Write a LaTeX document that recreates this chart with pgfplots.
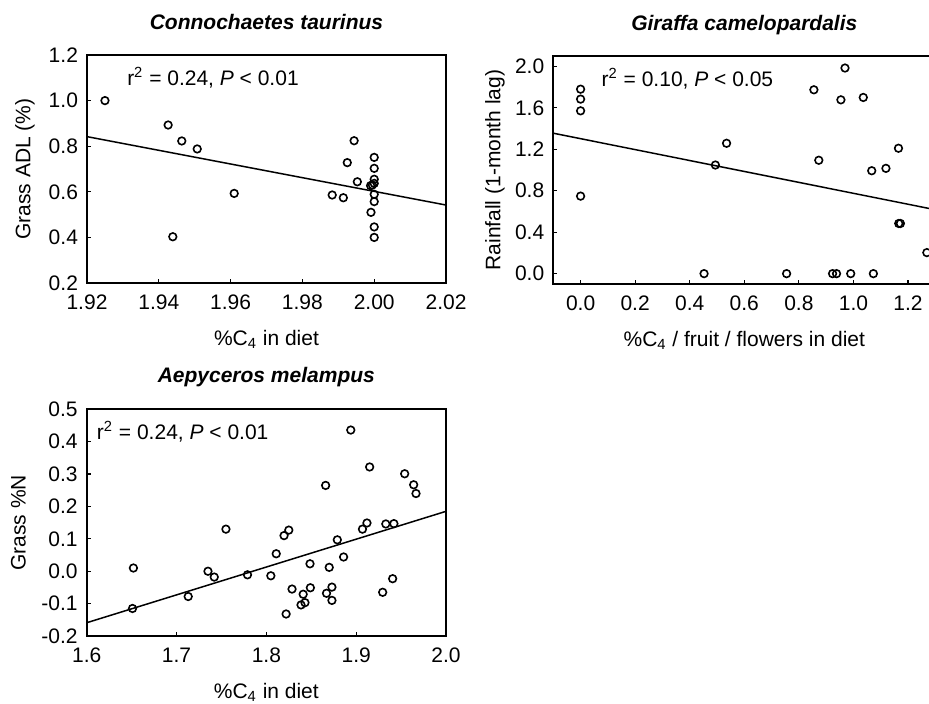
\documentclass[border=0pt]{standalone}
\usepackage{fontspec}
\setmainfont{Liberation Sans}
\usepackage{pgfplots}
\pgfplotsset{compat=1.18}
\newcommand\fs{\fontsize{10.5}{12.6}\selectfont}
\pgfplotsset{
  every axis/.append style={
    scale only axis,
    anchor=north west,
    axis line style={line width=0.9pt},
    tick align=inside,
    xtick pos=bottom, ytick pos=left,
    major tick length=2pt,
    tick style={line width=0.6pt, black},
    /pgf/number format/assume math mode=true,
    tick label style={font=\fs},
    xticklabel style={yshift=-2.5pt},
    yticklabel style={xshift=-1pt},
    label style={font=\fs},
    title style={font=\fs\bfseries\itshape, anchor=base, at={(axis description cs:0.5,1)}},
    xlabel style={anchor=base, at={(axis description cs:0.5,0)}, yshift=-31pt},
  },
  pts/.style={only marks, mark=o, mark size=1.9pt, mark options={line width=0.8pt, black}},
  fit/.style={no marks, black, line width=0.75pt},
}
\begin{document}
\begin{tikzpicture}
% Panel 1
\begin{axis}[at={(43.5pt,-27.5pt)}, width=179.5pt, height=114pt,
  xmin=1.92, xmax=2.02, ymin=0.2, ymax=1.2,
  xtick={1.92,1.94,...,2.021}, ytick={0.2,0.4,...,1.21},
  xticklabel style={/pgf/number format/.cd, fixed, fixed zerofill, precision=2},
  yticklabel style={/pgf/number format/.cd, fixed, fixed zerofill, precision=1},
  title={Connochaetes taurinus}, title style={yshift=6.75pt},
  xlabel={\%C\textsubscript{4} in diet},
  ylabel={Grass ADL (\%)}, ylabel style={at={(axis description cs:-0.1727,0.5)}, anchor=center},
]
\addplot[pts] coordinates {
(1.925,1.000) (1.9426,0.893) (1.9464,0.823) (1.9507,0.788) (1.9439,0.403)
(1.9610,0.593) (1.9883,0.586) (1.9914,0.574) (1.9925,0.728) (1.9944,0.824)
(1.9953,0.644) (1.9990,0.627) (1.9991,0.510) (2.000,0.751) (2.000,0.703)
(2.000,0.655) (2.000,0.637) (1.9995,0.630) (2.000,0.589) (2.000,0.557)
(2.000,0.446) (2.000,0.400)};
\addplot[fit] coordinates {(1.92,0.842) (2.02,0.542)};
\node[anchor=west, font=\fs, inner sep=0pt] at (axis cs:1.9311,1.099) {r\textsuperscript{2} = 0.24, \textit{P} < 0.01};
\end{axis}
% Panel 2
\begin{axis}[at={(276.65pt,-28pt)}, width=191pt, height=114pt,
  xmin=-0.1, xmax=1.3, ymin=-0.1, ymax=2.1,
  xtick={0,0.2,...,1.21}, ytick={0,0.4,...,2.01},
  xticklabel style={/pgf/number format/.cd, fixed, fixed zerofill, precision=1},
  yticklabel style={/pgf/number format/.cd, fixed, fixed zerofill, precision=1},
  title={Giraffa camelopardalis}, title style={yshift=6.75pt},
  xlabel={\%C\textsubscript{4} / fruit / flowers in diet},
  ylabel={Rainfall (1-month lag)}, ylabel style={at={(axis description cs:-0.1527,0.5)}, anchor=center},
]
\addplot[pts] coordinates {
(0,1.78) (0,1.684) (0,1.571) (0,0.748) (0.4525,0.0) (0.494,1.048) (0.535,1.258)
(0.755,0.0) (0.855,1.774) (0.873,1.094) (0.9235,0.0) (0.938,0.0) (0.954,1.677)
(0.969,1.984) (0.990,0.0) (1.036,1.70) (1.067,0.993) (1.073,0.0) (1.119,1.016)
(1.165,1.21) (1.166,0.484) (1.172,0.484) (1.269,0.203)};
\addplot[fit] coordinates {(-0.1,1.355) (1.3,0.617)};
\node[anchor=west, font=\fs, inner sep=0pt] at (axis cs:0.076,1.881) {r\textsuperscript{2} = 0.10, \textit{P} < 0.05};
\end{axis}
% Panel 3
\begin{axis}[at={(43.35pt,-204.65pt)}, width=179.65pt, height=113.35pt,
  xmin=1.6, xmax=2.0, ymin=-0.2, ymax=0.5,
  xtick={1.6,1.7,...,2.01}, ytick={-0.2,-0.1,...,0.51},
  xticklabel style={/pgf/number format/.cd, fixed, fixed zerofill, precision=1},
  yticklabel style={/pgf/number format/.cd, fixed, fixed zerofill, precision=1},
  title={Aepyceros melampus}, title style={yshift=7.5pt},
  xlabel={\%C\textsubscript{4} in diet},
  ylabel={Grass \%N}, ylabel style={at={(axis description cs:-0.190,0.5)}, anchor=center},
]
\addplot[pts] coordinates {
(1.652,0.010) (1.651,-0.115) (1.713,-0.078) (1.735,0.000) (1.742,-0.018)
(1.755,0.130) (1.779,-0.011) (1.805,-0.014) (1.811,0.054) (1.8197,0.110)
(1.825,0.127) (1.822,-0.132) (1.8286,-0.055) (1.8386,-0.104) (1.841,-0.071)
(1.843,-0.097) (1.8486,0.023) (1.849,-0.051) (1.866,0.265) (1.867,-0.068)
(1.870,0.012) (1.873,-0.049) (1.873,-0.090) (1.879,0.097) (1.886,0.044)
(1.894,0.436) (1.907,0.130) (1.912,0.149) (1.915,0.322) (1.9295,-0.065)
(1.933,0.146) (1.942,0.147) (1.9406,-0.023) (1.954,0.301) (1.964,0.267)
(1.9666,0.240)};
\addplot[fit] coordinates {(1.6,-0.159) (2.0,0.185)};
\node[anchor=west, font=\fs, inner sep=0pt] at (axis cs:1.611,0.43) {r\textsuperscript{2} = 0.24, \textit{P} < 0.01};
\end{axis}
\pgfresetboundingbox
\useasboundingbox (0,0) rectangle (464.5pt,-351.5pt);
\end{tikzpicture}
\end{document}
